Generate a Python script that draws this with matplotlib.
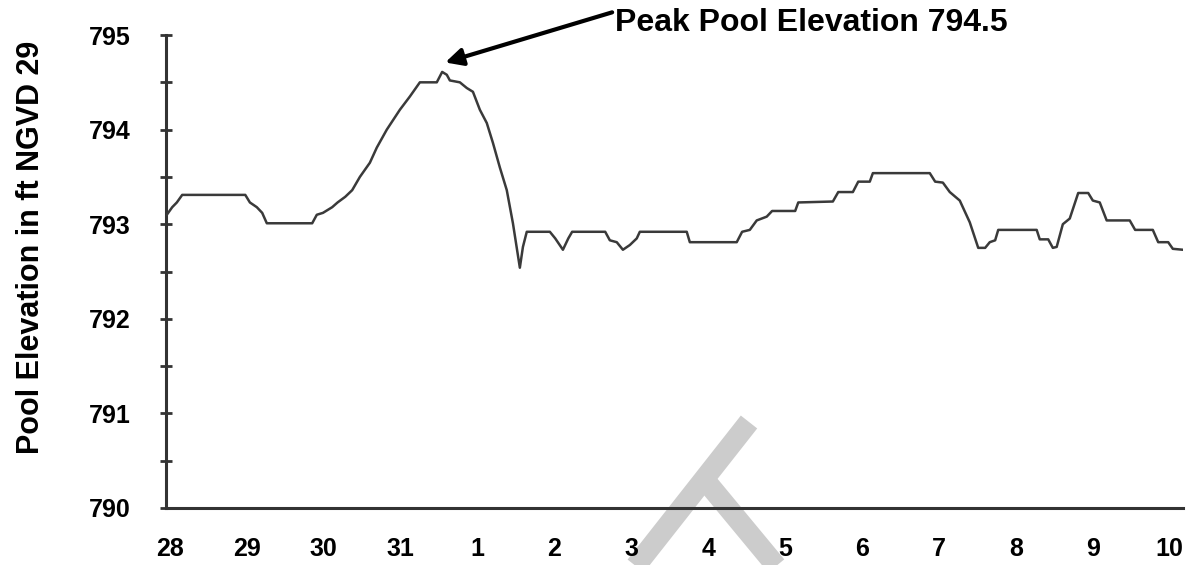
import matplotlib
matplotlib.use("Agg")
import matplotlib.pyplot as plt
from matplotlib.lines import Line2D

plt.rcParams['font.family'] = ['Liberation Sans', 'DejaVu Sans']
plt.rcParams['font.weight'] = 'bold'

# days since 28th (0 = "28"), pool elevation in ft
day = [-0.04, 0.03, 0.09, 0.16, 0.98, 1.04, 1.13, 1.20, 1.26, 1.85, 1.91, 1.99,
       2.11, 2.18, 2.28, 2.37, 2.47, 2.60, 2.69, 2.82, 2.99, 3.12, 3.25, 3.47,
       3.54, 3.60, 3.64, 3.77, 3.86, 3.94, 4.03, 4.12, 4.20, 4.29, 4.38, 4.46,
       4.55, 4.59, 4.64, 4.94, 5.01, 5.11, 5.18, 5.23, 5.66, 5.72, 5.81, 5.89,
       5.98, 6.07, 6.11, 6.72, 6.76, 7.37, 7.44, 7.54, 7.63, 7.76, 7.83, 8.13,
       8.17, 8.62, 8.69, 8.88, 8.95, 9.10, 9.14, 9.88, 9.95, 10.05, 10.14, 10.27,
       10.40, 10.51, 10.60, 10.66, 10.73, 10.77, 11.27, 11.31, 11.42, 11.48, 11.53,
       11.61, 11.70, 11.81, 11.94, 12.00, 12.09, 12.18, 12.48, 12.55, 12.78, 12.85,
       12.98, 13.04, 13.17]
elev = [793.10, 793.18, 793.23, 793.31, 793.31, 793.23, 793.18, 793.12, 793.01, 793.01, 793.10, 793.12,
        793.18, 793.23, 793.29, 793.36, 793.50, 793.65, 793.81, 794.00, 794.21, 794.35, 794.50, 794.50,
        794.61, 794.58, 794.52, 794.50, 794.44, 794.40, 794.21, 794.07, 793.86, 793.60, 793.36, 793.01,
        792.54, 792.76, 792.92, 792.92, 792.85, 792.73, 792.85, 792.92, 792.92, 792.83, 792.81, 792.73,
        792.78, 792.85, 792.92, 792.92, 792.81, 792.81, 792.92, 792.94, 793.04, 793.08, 793.14, 793.14,
        793.23, 793.24, 793.34, 793.34, 793.45, 793.45, 793.54, 793.54, 793.45, 793.44, 793.34, 793.25,
        793.02, 792.75, 792.75, 792.81, 792.83, 792.94, 792.94, 792.84, 792.84, 792.75, 792.76,
        793.00, 793.06, 793.33, 793.33, 793.25, 793.23, 793.04, 793.04, 792.94, 792.94, 792.81,
        792.81, 792.74, 792.73]

day_labels = ['28', '29', '30', '31', '1', '2', '3', '4', '5', '6', '7', '8', '9', '10']
elev_ticks = [790, 791, 792, 793, 794, 795]
peak_text = 'Peak Pool Elevation 794.5'
peak_day, peak_elev = 3.58, 794.71
text_day, text_elev = 5.79, 795.13
tail_day, tail_elev = 5.75, 795.24

fig = plt.figure(figsize=(11.99, 5.65), dpi=100)
ax = fig.add_axes([0.1385, 0.1009, 0.848, 0.8371])
ax.set_facecolor('none')

ax.plot(day, elev, color='#3a3a3a', lw=1.8, zorder=3)

ax.set_xlim(-0.05, 13.17)
ax.set_ylim(790, 795)
ax.set_xticks(range(len(day_labels)))
ax.set_xticklabels(day_labels)
ax.set_yticks(elev_ticks)
ax.set_yticks([v + 0.5 for v in elev_ticks[:-1]], minor=True)
ax.tick_params(axis='x', length=0, pad=21, labelsize=18)
ax.tick_params(axis='y', which='both', direction='inout', length=9, width=2,
               color='#333333', pad=21, labelsize=18)

for s in ['top', 'right']:
    ax.spines[s].set_visible(False)
for s in ['left', 'bottom']:
    ax.spines[s].set_linewidth(2.2)
    ax.spines[s].set_color('#333333')

ax.set_ylabel('Pool Elevation in ft NGVD 29', fontsize=22, fontweight='bold')
ax.yaxis.set_label_coords(-0.118, 0.552)

ax.text(text_day, text_elev, peak_text, fontsize=23, fontweight='bold',
        va='center', ha='left', clip_on=False)
ax.annotate('', xy=(peak_day, peak_elev), xytext=(tail_day, tail_elev),
            annotation_clip=False,
            arrowprops=dict(arrowstyle='-|>', color='black', lw=3,
                            mutation_scale=26, shrinkA=0, shrinkB=0))

# faint grey watermark strokes behind the chart
for x0, y0, x1, y1 in [(0.5235, -0.02, 0.6247, 0.2531), (0.588, 0.1504, 0.6545, -0.02)]:
    fig.add_artist(Line2D([x0, x1], [y0, y1], transform=fig.transFigure,
                          color='#cccccc', lw=15, solid_capstyle='butt', zorder=0))

fig.savefig('out.png', dpi=100)
